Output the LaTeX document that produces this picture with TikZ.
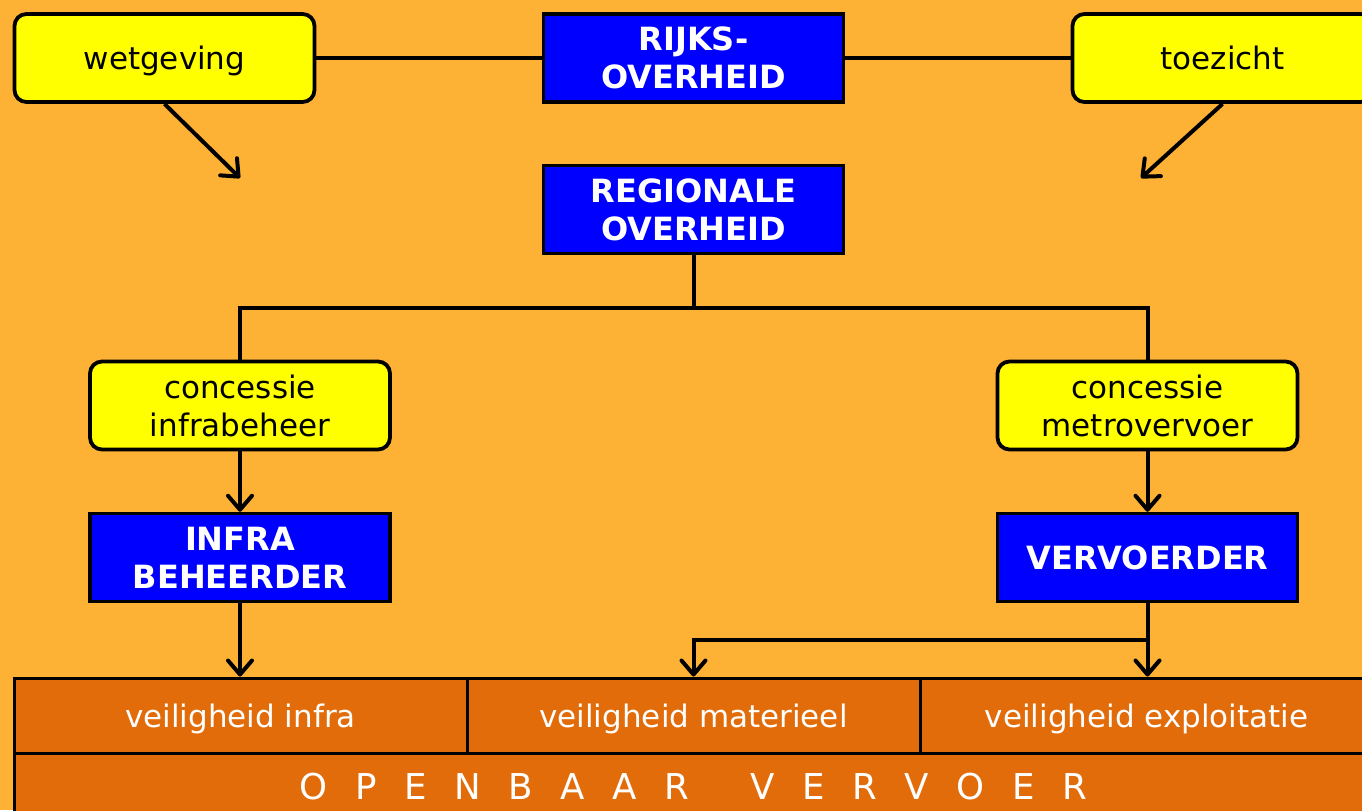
\documentclass[tikz,border=0pt]{standalone}
\usepackage{fontspec}
\setmainfont{DejaVu Sans}
\usetikzlibrary{arrows.meta}
\definecolor{bgorange}{RGB}{253,178,53}
\definecolor{bandorange}{RGB}{226,108,10}
\definecolor{boxblue}{RGB}{0,0,255}
\definecolor{boxyellow}{RGB}{255,255,0}
\begin{document}
\begin{tikzpicture} [
                x=0.5pt, y=-0.5pt,
                every node/.style={font=\fontsize{15.5}{19}\selectfont, align=center, inner sep=0pt},
                task/.style={rectangle, rounded corners=6pt, draw=black, line width=1.9pt, fill=boxyellow, text depth=0pt, minimum width=150pt, minimum height=44pt},
                actor/.style={rectangle, draw=black, line width=1.75pt, fill=boxblue, text=white, font=\fontsize{16}{19}\selectfont\bfseries, minimum width=150pt, minimum height=44pt},
                cell/.style={rectangle, draw=black, line width=1.5pt, fill=bandorange, text=white, text depth=0pt, minimum width=226.5pt, minimum height=37.5pt},
                link/.style={draw, line width=2pt},
                arrow/.style={link, -{Straight Barb[length=7pt,width=12pt,round]}},
            ]
            % Background and frame
            \fill[bgorange] (0,0) rectangle (1362,810);
            \clip (0,0) rectangle (1362,810);
            % First we draw the boxes
            \node[task] (wet) at (164.5,58) {wetgeving};
            \node[actor] (rijks) at (693.5,58) {RIJKS-\\OVERHEID};
            \node[task] (toez) at (1222.5,58) {toezicht};
            \node[actor] (reg) at (693.5,209.5) {REGIONALE\\OVERHEID};
            \node[task] (cinfra) at (240,405.5) {concessie\\infrabeheer};
            \node[task] (cmetro) at (1147.5,405.5) {concessie\\metrovervoer};
            \node[actor] (infra) at (240,557.5) {INFRA\\BEHEERDER};
            \node[actor] (verv) at (1147.5,557.5) {VERVOERDER};
            % The band at the bottom
            \foreach \x/\name/\label in {
                    240.5/vinfra/veiligheid infra,
                    693.5/vmat/veiligheid materieel,
                    1146.5/vexpl/veiligheid exploitatie}
                \node[cell] (\name) at (\x,715.5) {\label};
            \node[cell, minimum width=679.5pt, minimum height=33.5pt,
                font=\fontsize{17.8}{20}\selectfont] (ov) at (693.5,786.5)
                {\spaceskip=13.75pt\relax O P E N B A A R\hspace{31pt}V E R V O E R};
            \coordinate (wtip) at (240,178);
            \coordinate (ttip) at (1141,178);
            % Connect boxes with lines and arrows
            \draw[link] (wet) -- (rijks) (rijks) -- (toez);
            \draw[arrow] (wet.south) -- (wtip);
            \draw[arrow] (toez.south) -- (ttip);
            \draw[link] (reg.south) -- ++(0,53) coordinate (split) -| (cinfra.north);
            \draw[link] (split) -| (cmetro.north);
            \draw[arrow] (cinfra) -- (infra);
            \draw[arrow] (cmetro) -- (verv);
            \draw[arrow] (infra) -- (vinfra.north -| infra.south);
            \draw[arrow] (verv.south) -- (vexpl.north -| verv.south);
            \draw[link] (verv.south) -- ++(0,37) coordinate (vsplit);
            \draw[arrow] (vsplit) -| (vmat.north);
        \end{tikzpicture}
\end{document}
